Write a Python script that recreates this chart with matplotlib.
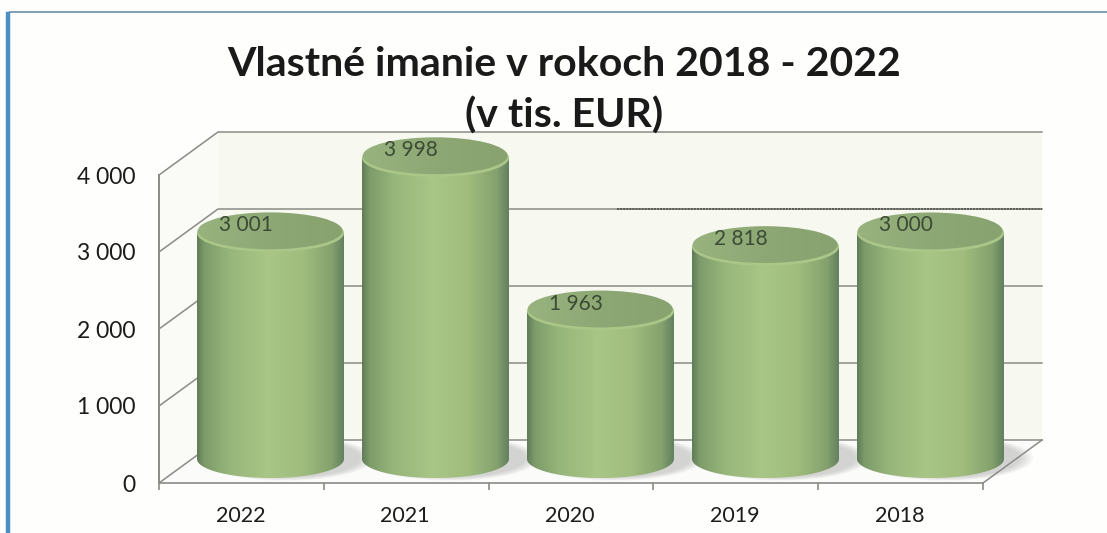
import numpy as np
import matplotlib
matplotlib.use("Agg")
import matplotlib.pyplot as plt
from matplotlib.colors import LinearSegmentedColormap
from matplotlib.patches import Ellipse, Polygon
from matplotlib.path import Path

years = ["2022", "2021", "2020", "2019", "2018"]
equity = [3001, 3998, 1963, 2818, 3000]
value_labels = ["3 001", "3 998", "1 963", "2 818", "3 000"]
axis_ticks = [0, 1000, 2000, 3000, 4000]
axis_tick_labels = ["0", "1 000", "2 000", "3 000", "4 000"]
title_text = "Vlastné imanie v rokoch 2018 - 2022\n(v tis. EUR)"

W, H = 1107, 533
plt.rcParams["font.family"] = ["Lato", "DejaVu Sans"]
fig = plt.figure(figsize=(W / 100, H / 100), dpi=100, facecolor="#fefefc")


def box(x0, y_top, x1, y_bottom):
    """Axes rectangle from pixel edges, with y counted from the top."""
    return [x0 / W, 1 - y_bottom / H, (x1 - x0) / W, (y_bottom - y_top) / H]


# Page frame around the pasted chart
page = fig.add_axes([0, 0, 1, 1], zorder=0)
page.set_xlim(0, W)
page.set_ylim(H, 0)
page.axis("off")
page.plot([10, W], [12, 12], color="#7f9fb4", lw=1.4)
page.plot([7.5, 7.5], [14, H], color="#4a90c4", lw=3.2)

# Value axis and floor, 3D walls drawn with a fixed depth offset
wall = fig.add_axes(box(159, 175, 983, 483), zorder=1)
wall.patch.set_alpha(0)
wall.set_xlim(0, 5)
wall.set_ylim(0, 4000)
DX, DY = 59 / 164.8, 43 / 77 * 1000
grid_c = "#8b8b86"
wall.add_patch(Polygon([(0, 0), (DX, DY), (5 + DX, DY), (5 + DX, 4000 + DY), (DX, 4000 + DY)],
                       fc="#f7f8f0", ec="none", clip_on=False, zorder=0))
wall.add_patch(Polygon([(0, 0), (DX, DY), (DX, 4000 + DY), (0, 4000)],
                       fc="#fafbf6", ec="none", clip_on=False, zorder=0))
wall.add_patch(Polygon([(0, 0), (DX, DY), (5 + DX, DY), (5, 0)],
                       fc="#fbfbfa", ec="none", clip_on=False, zorder=0))
for t in axis_ticks:
    wall.plot([0, DX, 5 + DX], [t, t + DY, t + DY], color=grid_c, lw=1.1,
              clip_on=False, zorder=1)
wall.plot([5, 5 + DX], [0, DY], color=grid_c, lw=1.1, clip_on=False, zorder=1)
wall.plot([0, 0], [0, 4000], color=grid_c, lw=1.2, clip_on=False, zorder=1)
wall.plot([2.78, 5 + DX], [3000 + DY] * 2, color="#55554f", lw=1.3,
          ls=(0, (1.2, 0.5)), clip_on=False, zorder=1)
for s in ("top", "right"):
    wall.spines[s].set_visible(False)
for s in ("left", "bottom"):
    wall.spines[s].set_color(grid_c)
    wall.spines[s].set_linewidth(1.2)
wall.set_yticks(axis_ticks, axis_tick_labels, fontsize=16.5, color="#1c1c1c")
wall.set_xticks(range(6), [""] * 6)
wall.tick_params(axis="y", length=0, pad=17)
wall.tick_params(axis="x", length=5, color=grid_c, width=1.2, direction="out")
for i, y in enumerate(years):
    wall.annotate(y, (i + 0.5, 0), xytext=(-0.8, -24), textcoords="offset points",
                  ha="center", va="center", fontsize=15.5, color="#1c1c1c")

# Cylinders: category index on x, value on y, base centre at pixel row 459
PX_PER_CAT, PX_PER_VAL = 165, 0.0753
bar = fig.add_axes([0, 0, 1, 1], zorder=2)
bar.patch.set_alpha(0)
bar.axis("off")
bar_xlim = ((0 - 270.5) / PX_PER_CAT, (W - 270.5) / PX_PER_CAT)
bar_ylim = ((459 - H) / PX_PER_VAL, 459 / PX_PER_VAL)
half_w = 73.5 / PX_PER_CAT
half_h = 19 / PX_PER_VAL

side = LinearSegmentedColormap.from_list("side", [
    (0.00, "#5f7c58"), (0.05, "#7e9b6a"), (0.22, "#97b67a"), (0.48, "#a8c685"),
    (0.72, "#a0bd7e"), (0.92, "#84a16e"), (1.00, "#62805f")])
cap = LinearSegmentedColormap.from_list("cap", [
    (0.0, "#98b37e"), (0.5, "#8dA874"), (1.0, "#88a270")])
shade = np.linspace(0, 1, 256)[None, :]

for i, value in enumerate(equity):
    # soft floor shadow to the lower right of each base
    for k in range(9):
        grow = 1 + 0.022 * k
        bar.add_patch(Ellipse((i + 0.09, 10), 2 * half_w * grow * 1.02, 2.0 * half_h * grow,
                              fc="#9a9a9a", ec="none", alpha=0.05, zorder=1))

    t = np.linspace(np.pi, 2 * np.pi, 60)
    lower = np.column_stack([i + half_w * np.cos(t), half_h * np.sin(t)])
    outline = np.vstack([[i - half_w, value], lower, [i + half_w, value], [i - half_w, value]])
    body = bar.imshow(shade, cmap=side, aspect="auto", interpolation="bicubic", zorder=2,
                      extent=(i - half_w, i + half_w, -half_h, value))
    body.set_clip_path(Path(outline), transform=bar.transData)

    bar.add_patch(Ellipse((i, value), 2 * half_w, 2 * half_h, fc="#aac688", ec="none", zorder=3))
    top = Ellipse((i - 0.002, value + 2.2 / PX_PER_VAL), 2 * half_w * 0.985, 2 * half_h * 0.97,
                  fc="none", ec="none", zorder=4)
    bar.add_patch(top)
    face = bar.imshow(shade, cmap=cap, aspect="auto", interpolation="bicubic", zorder=4,
                      extent=(i - half_w, i + half_w, value - half_h, value + 1.3 * half_h))
    face.set_clip_path(top)

    bar.annotate(value_labels[i], (i, value), xytext=(-18, 5.5), textcoords="offset points",
                 ha="center", va="center", fontsize=15, color="#3c4a36", zorder=6)

bar.set_xlim(bar_xlim)
bar.set_ylim(bar_ylim)

fig.text(564 / W, 1 - 90 / H, title_text, ha="center", va="center", fontsize=29.5,
         fontweight="bold", color="#1a1a1a", linespacing=1.45, zorder=5)

fig.savefig("out.png", dpi=100, facecolor=fig.get_facecolor())
